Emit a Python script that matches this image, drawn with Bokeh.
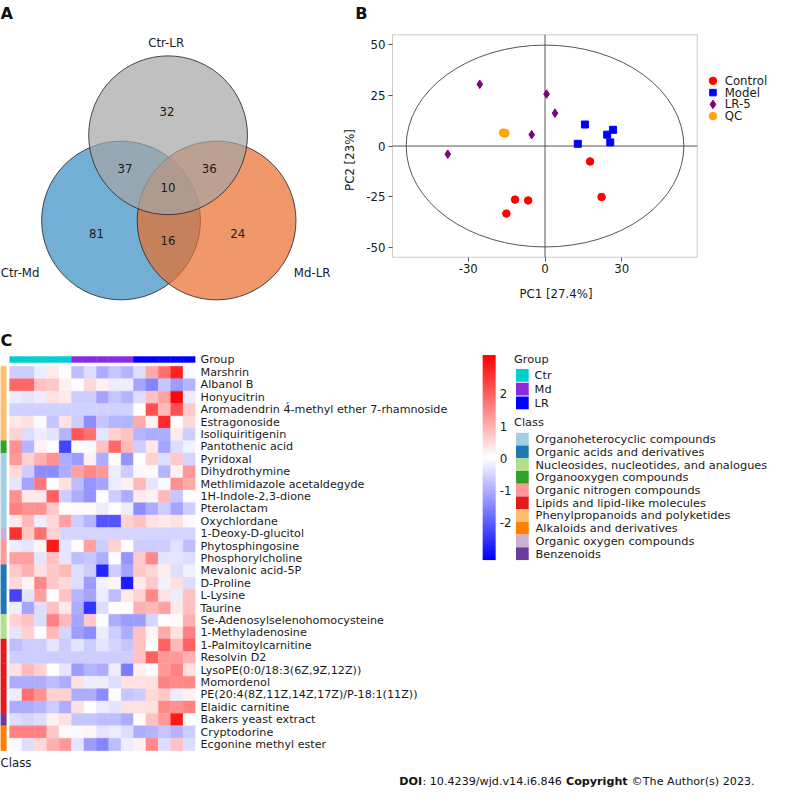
from bokeh.plotting import figure
from bokeh.models import (Range1d, ColumnDataSource, ColorBar,
                          LinearColorMapper, FixedTicker, LinearAxis, BoxAnnotation)
from bokeh.layouts import column, row
from bokeh.embed import file_html
from bokeh.resources import INLINE
from bokeh.core.properties import value
from bokeh.transform import transform

S = 0.98
FONT = "DejaVu Sans"
TXT = "#1a1a1a"

# ---------------- data ----------------
venn_set_names = ["Ctr-LR", "Ctr-Md", "Md-LR"]
venn_counts = [32, 37, 36, 10, 81, 16, 24]

pca_groups = ["Control", "Model", "LR-5", "QC"]
pca_control_x = [17.6, 22.1, -11.7, -6.6, -15.1]
pca_control_y = [-7.6, -25.1, -26.4, -26.8, -33.3]
pca_model_x = [15.6, 12.8, 24.3, 26.6, 25.5]
pca_model_y = [10.6, 1.1, 5.6, 8.0, 1.8]
pca_lr_x = [-25.5, 0.6, 3.9, -5.2, -38.0]
pca_lr_y = [30.4, 25.6, 16.2, 5.6, -4.0]
pca_qc_x = [-16.3, -15.6]
pca_qc_y = [6.5, 6.3]
pca_xticks = [-30, 0, 30]
pca_yticks = [-50, -25, 0, 25, 50]
pca_xlim = (-59.6, 59.5)
pca_ylim = (-54.8, 54.8)
pca_ellipse_w, pca_ellipse_h = 108.5, 99.5

heat_rows = ["Marshrin", "Albanol B", "Honyucitrin",
             "Aromadendrin 4\u0301-methyl ether 7-rhamnoside", "Estragonoside",
             "Isoliquiritigenin", "Pantothenic acid", "Pyridoxal", "Dihydrothymine",
             "Methlimidazole acetaldegyde", "1H-Indole-2,3-dione", "Pterolactam",
             "Oxychlordane", "1-Deoxy-D-glucitol", "Phytosphingosine",
             "Phosphorylcholine", "Mevalonic acid-5P", "D-Proline", "L-Lysine",
             "Taurine", "Se-Adenosylselenohomocysteine", "1-Methyladenosine",
             "1-Palmitoylcarnitine", "Resolvin D2", "LysoPE(0:0/18:3(6Z,9Z,12Z))",
             "Momordenol", "PE(20:4(8Z,11Z,14Z,17Z)/P-18:1(11Z))", "Elaidic carnitine",
             "Bakers yeast extract", "Cryptodorine", "Ecgonine methyl ester"]

heat_groups = ["Ctr", "Md", "LR"]
samples_per_group = 5

class_names = ["Organoheterocyclic compounds", "Organic acids and derivatives",
               "Nucleosides, nucleotides, and analogues", "Organooxygen compounds",
               "Organic nitrogen compounds", "Lipids and lipid-like molecules",
               "Phenylpropanoids and polyketides", "Alkaloids and derivatives",
               "Organic oxygen compounds", "Benzenoids"]
class_colors = ["#A6CEE3", "#1F78B4", "#B2DF8A", "#33A02C", "#FB9A99", "#E31A1C",
                "#FDBF6F", "#FF7F00", "#CAB2D6", "#6A3D9A"]
group_colors = ["#00CED1", "#8A2BE2", "#0000FF"]

row_class = [6, 6, 6, 6, 6, 6, 3, 0, 0, 0, 0, 0, 0, 8, 4, 4, 1, 1, 1, 1, 2, 2,
             5, 5, 5, 5, 5, 5, 9, 7, 7]

heat_ctr = [
    [-0.6, -0.6, -0.2, 0.3, 0.0],
    [1.9, 1.9, 0.8, 0.7, 0.2],
    [-0.2, -0.3, -0.2, 0.4, 0.3],
    [-0.55, -0.55, -0.55, -0.55, -0.55],
    [0.3, 0.4, -0.05, -0.7, 0.4],
    [0.6, -0.4, -0.2, -0.3, -0.9],
    [1.4, -0.9, 0.2, 0.05, -2.3],
    [1.3, 0.6, 1.0, 1.4, -1.0],
    [0.5, -0.6, -1.4, -1.4, -1.0],
    [-0.3, -1.1, 1.7, 0.0, 0.4],
    [1.4, 0.3, 0.3, 2.0, -0.6],
    [1.6, 1.4, 1.4, 0.7, 0.05],
    [0.3, 0.9, -0.2, 0.5, 1.2],
    [2.6, 0.7, 1.8, 0.6, -0.5],
    [-0.2, -0.3, 0.15, 2.9, -0.3],
    [1.2, 1.2, -0.3, 0.8, -0.3],
    [0.7, 1.0, 0.4, 0.7, 0.9],
    [0.5, 0.15, 1.5, 0.7, 0.5],
    [-2.3, -0.3, 1.2, 0.0, 0.8],
    [-0.2, -1.1, -0.4, 0.8, 0.3],
    [0.6, 0.8, -0.4, 1.6, 0.9],
    [-0.3, 0.6, 0.0, 0.9, -0.5],
    [-0.8, -0.6, -0.6, -0.3, -0.6],
    [-0.6, -0.6, -0.6, -0.6, -0.6],
    [0.4, 0.9, 0.6, 0.05, -0.3],
    [-1.0, -1.0, -1.0, -0.8, -1.0],
    [-0.2, 1.8, 1.4, 0.6, 0.6],
    [-1.0, -1.0, -0.9, -0.6, -1.0],
    [-0.4, -0.5, -0.4, 0.2, 0.4],
    [1.6, 1.6, 1.6, 0.7, 0.1],
    [-0.05, -0.4, 0.5, 1.0, 1.3],
]
heat_md = [
    [-0.8, -0.4, -1.0, -0.7, -0.9],
    [0.0, 0.5, 0.2, -0.2, -0.2],
    [-0.6, -0.6, -1.1, -0.7, -0.9],
    [-0.55, -0.55, -0.55, -0.55, -0.55],
    [-0.6, -1.4, -0.7, -0.9, -0.9],
    [2.1, 1.8, -0.3, 0.6, 0.8],
    [0.0, -0.05, 0.8, 1.9, 0.9],
    [-1.2, 0.2, -1.0, 0.0, -1.3],
    [1.2, 1.5, 1.3, -0.2, -0.6],
    [-0.8, -1.3, -1.1, -0.2, 0.2],
    [-1.0, -1.3, 0.0, -0.6, -1.0],
    [0.1, 0.1, -0.2, 0.0, -0.2],
    [-0.6, -0.9, -2.1, -2.1, 0.6],
    [-0.5, -0.5, -0.5, -0.5, -0.5],
    [0.05, 1.2, -0.6, 0.6, 0.0],
    [-0.8, -0.7, -1.0, 0.0, -1.3],
    [-0.4, -0.6, -2.7, -0.6, -1.1],
    [-0.4, -1.2, -0.15, 0.15, -2.8],
    [-0.9, -1.1, -0.2, -0.8, 0.3],
    [-1.0, -2.5, -0.4, 0.05, 0.05],
    [-1.1, 0.7, 0.0, -1.0, -1.2],
    [-1.2, -1.4, -0.2, -0.6, -1.0],
    [-0.3, -0.6, -0.3, -0.5, -0.7],
    [-0.6, -0.6, -0.6, -0.6, -0.6],
    [-1.2, -0.9, -1.0, -0.2, -1.6],
    [0.4, -0.2, -0.2, -0.4, 0.4],
    [-1.0, -1.0, -1.4, 0.0, -0.7],
    [0.4, 0.0, -0.2, -0.3, 0.4],
    [-0.7, -0.7, -0.8, -0.8, -1.0],
    [-0.05, 0.15, -0.3, -0.2, -0.4],
    [-0.3, -1.2, -1.5, -0.8, -0.2],
]
heat_lr = [
    [-0.4, 1.1, 1.8, 2.8, -0.05],
    [-1.1, -1.5, -0.7, -1.2, -0.9],
    [-0.4, 0.8, 1.2, 3.1, -0.2],
    [0.05, 2.2, 0.9, 2.2, 0.7],
    [1.1, 0.2, 2.7, 0.0, 0.5],
    [-0.9, -1.0, -1.0, 0.3, -0.6],
    [-0.6, 0.3, -1.1, -0.4, -0.15],
    [0.05, 0.6, -0.4, 0.7, -0.5],
    [-0.05, 0.1, -0.9, 0.2, 1.3],
    [0.9, -0.3, -0.05, 1.4, 1.1],
    [0.3, 0.2, 0.9, -0.7, 0.0],
    [-1.4, -1.0, -0.6, -1.1, -0.6],
    [0.8, 0.4, 0.3, 0.4, 0.1],
    [-0.5, -0.5, -0.5, -0.5, -0.5],
    [-0.6, -0.6, -0.6, -0.35, -0.8],
    [0.7, 1.5, -0.3, -0.3, -0.4],
    [0.7, 0.5, 0.25, -0.4, -0.15],
    [0.3, 0.7, -0.15, 0.4, -0.4],
    [0.6, 1.5, 0.4, -0.2, 0.8],
    [1.0, 0.9, 1.2, 0.3, 0.8],
    [-1.2, -0.5, 0.05, 0.1, 1.0],
    [0.8, 0.15, 1.1, 0.4, 1.6],
    [0.8, 0.05, 2.0, 0.9, 2.0],
    [0.8, 2.0, 1.3, 1.3, 1.0],
    [0.2, 0.05, 1.3, 1.6, 0.4],
    [0.4, 0.4, 1.6, 1.5, 1.5],
    [-0.6, 0.5, 0.7, -0.2, 0.2],
    [0.4, 0.4, 1.5, 1.4, 1.6],
    [0.05, 0.8, 1.3, 2.9, 0.05],
    [-1.0, -0.9, -0.7, -0.9, -0.6],
    [0.2, 1.5, -0.4, 0.8, -0.4],
]
colorbar_ticks = [-2, -1, 0, 1, 2]
scale_low, scale_high = -3.15, 3.2


def base_fig(w, h, xr, yr, **kw):
    f = figure(width=w, height=h, x_range=xr, y_range=yr, output_backend="svg",
               toolbar_location=None, **kw)
    f.background_fill_color = "white"
    f.border_fill_color = "white"
    f.min_border = 0
    f.min_border_left = 0
    f.min_border_right = 0
    f.min_border_top = 0
    f.min_border_bottom = 0
    return f


def hide_axes(f):
    f.axis.visible = False
    f.grid.visible = False
    f.outline_line_color = None


def fs(px):
    return "%.2fpx" % (px * S)


def ascii_labels(ticks):
    return {t: str(t) for t in ticks}


TOP_H = 319
BOT_H = 453
FOOT_H = 22
VENN_W = 338
PCA_W = 435
HM_W = 475
LEG_W = 298

# ---------------- Panel A: Venn ----------------
venn = base_fig(VENN_W, TOP_H, Range1d(0, VENN_W / S), Range1d(TOP_H / S, 0))
hide_axes(venn)
circ_x = [123, 220.5, 171]
circ_y = [224.5, 224.5, 137.5]
circ_fill = ["#388BC2", "#EA6C2A", "#A5A5A5"]
venn.circle(x=circ_x, y=circ_y, radius=81, fill_color=circ_fill, fill_alpha=0.7,
            line_color="#333333", line_width=0.9)
set_label_x = [169, 20, 318]
set_label_y = [43, 278, 278]
venn.text(x=set_label_x, y=set_label_y, text=venn_set_names,
          text_align="center", text_baseline="middle", text_font=value(FONT),
          text_font_size=fs(12), text_color=TXT)
cnt_x = [170, 127, 213, 171, 98, 171, 242]
cnt_y = [113, 171, 171, 191, 238, 245, 238]
venn.text(x=cnt_x, y=cnt_y, text=[str(v) for v in venn_counts], text_align="center",
          text_baseline="middle", text_font=value(FONT), text_font_size=fs(12),
          text_color=TXT)
venn.text(x=[0], y=[13], text=["A"], text_align="left", text_baseline="middle",
          text_font=value(FONT), text_font_style="bold", text_font_size=fs(16.5),
          text_color="#111111")

# ---------------- Panel B: PCA ----------------
p_x0 = VENN_W / S
p_x1 = p_x0 + PCA_W / S
BOX_L, BOX_R, BOX_T, BOX_B = 400, 711, 35, 262
kx = (pca_xlim[1] - pca_xlim[0]) / (BOX_R - BOX_L)
ky = (pca_ylim[1] - pca_ylim[0]) / (BOX_B - BOX_T)


def px_to_x(px):
    return pca_xlim[0] + (px - BOX_L) * kx


def px_to_y(py):
    return pca_ylim[1] - (py - BOX_T) * ky


xr = Range1d(px_to_x(p_x0), px_to_x(p_x1))
yr = Range1d(px_to_y(TOP_H / S), px_to_y(0))
pca = base_fig(PCA_W, TOP_H, xr, yr, x_axis_location=None, y_axis_location=None)
pca.grid.visible = False
pca.outline_line_color = None

xax = LinearAxis(fixed_location=pca_ylim[0], ticker=FixedTicker(ticks=pca_xticks),
                 axis_label="PC1 [27.4%]", major_label_overrides=ascii_labels(pca_xticks))
yax = LinearAxis(fixed_location=pca_xlim[0], ticker=FixedTicker(ticks=pca_yticks),
                 axis_label="PC2 [23%]", major_label_overrides=ascii_labels(pca_yticks))
for ax in (xax, yax):
    ax.axis_line_color = None
    ax.major_tick_line_color = "#555555"
    ax.major_tick_out = 4
    ax.major_tick_in = 0
    ax.minor_tick_line_color = None
    ax.major_label_text_font = FONT
    ax.major_label_text_font_size = fs(12)
    ax.major_label_text_color = TXT
    ax.axis_label_text_font = FONT
    ax.axis_label_text_font_size = fs(12)
    ax.axis_label_text_font_style = "normal"
    ax.axis_label_text_color = TXT
    ax.major_label_standoff = 3
xax.axis_label_standoff = 10
yax.axis_label_standoff = 6
pca.add_layout(xax, "below")
pca.add_layout(yax, "left")

pca.add_layout(BoxAnnotation(left=pca_xlim[0], right=pca_xlim[1], bottom=pca_ylim[0],
                             top=pca_ylim[1], fill_color=None, line_color="#555555",
                             line_width=1))
pca.segment(x0=[pca_xlim[0], 0], y0=[0, pca_ylim[0]], x1=[pca_xlim[1], 0],
            y1=[0, pca_ylim[1]], line_color="#555555", line_width=1)
pca.ellipse(x=[0], y=[0], width=[pca_ellipse_w], height=[pca_ellipse_h],
            fill_color=None, line_color="#555555", line_width=1)

markers = ["circle", "square", "diamond", "circle"]
mcolors = ["#FF0000", "#0000FF", "#800080", "#FFA500"]
msizes = [7.5, 7, 8.5, 8]
series = [(pca_control_x, pca_control_y), (pca_model_x, pca_model_y),
          (pca_lr_x, pca_lr_y), (pca_qc_x, pca_qc_y)]
for (sx, sy), mk, mc, ms in zip(series, markers, mcolors, msizes):
    pca.scatter(sx, sy, marker=mk, size=ms, fill_color=mc, line_color=mc)

# legend (drawn inside the plot canvas, right of the score box)
leg_y = [px_to_y(82 + 12 * i) for i in range(len(pca_groups))]
for i, (mk, mc) in enumerate(zip(markers, mcolors)):
    pca.scatter([px_to_x(727)], [leg_y[i]], marker=mk, size=[7.5, 6.5, 8.5, 7.5][i],
                fill_color=mc, line_color=mc)
pca.text(x=[px_to_x(739)] * len(pca_groups), y=leg_y, text=pca_groups,
         text_align="left", text_baseline="middle", text_font=value(FONT),
         text_font_size=fs(12), text_color=TXT)

pca.text(x=[px_to_x(362)], y=[px_to_y(13)], text=["B"], text_align="left",
         text_baseline="middle", text_font=value(FONT), text_font_style="bold",
         text_font_size=fs(16.5), text_color="#111111")

# ---------------- Panel C: heatmap ----------------
ROW0 = 373.3
ROWH = 12.65
COL0 = 9.3
COLW = 12.67
fig_top_ref = TOP_H / S
fig_bot_ref = fig_top_ref + BOT_H / S
hy0 = (fig_top_ref - ROW0) / ROWH
hy1 = (fig_bot_ref - ROW0) / ROWH
hx0 = -COL0 / COLW
hm = base_fig(HM_W, BOT_H, Range1d(hx0, 15), Range1d(hy1, hy0), x_axis_location=None,
              y_axis_location="right")
hm.min_border_right = 280
hm.grid.visible = False
hm.outline_line_color = None

palette = []
for i in range(128):
    t = i / 127
    palette.append("#%02x%02x%02x" % (int(round(255 * t)), int(round(255 * t)), 255))
for i in range(128):
    t = i / 127
    palette.append("#%02x%02x%02x" % (255, int(round(255 * (1 - t))), int(round(255 * (1 - t)))))
mapper = LinearColorMapper(palette=palette, low=scale_low, high=scale_high)

cx, cy, cv = [], [], []
for r_i in range(len(heat_rows)):
    vals = heat_ctr[r_i] + heat_md[r_i] + heat_lr[r_i]
    for c_i, v in enumerate(vals):
        cx.append(c_i + 0.5)
        cy.append(r_i + 0.5)
        cv.append(v)
hsrc = ColumnDataSource(dict(x=cx, y=cy, v=cv))
hm.rect(x="x", y="y", width=1, height=1, source=hsrc,
        fill_color=transform("v", mapper), line_color=transform("v", mapper),
        line_width=0.4)

# group bar
gx = [c + 0.5 for c in range(samples_per_group * len(heat_groups))]
gcol = [group_colors[c // samples_per_group] for c in range(len(gx))]
gbar_y = (366.3 - ROW0) / ROWH
gbar_h = 6 / ROWH
hm.rect(x=gx, y=[gbar_y] * len(gx), width=1, height=gbar_h, fill_color=gcol,
        line_color=gcol, line_width=0.4)

# class bar
cbar_w = 6 / COLW
cbar_x = hx0 + cbar_w / 2
crow_y = [r + 0.5 for r in range(len(heat_rows))]
crow_c = [class_colors[k] for k in row_class]
hm.rect(x=[cbar_x] * len(crow_y), y=crow_y, width=cbar_w, height=1, fill_color=crow_c,
        line_color=crow_c, line_width=0.4)

hax = hm.yaxis[0]
hax.ticker = FixedTicker(ticks=[gbar_y] + crow_y)
overrides = {gbar_y: "Group"}
for r_i, name in enumerate(heat_rows):
    overrides[r_i + 0.5] = name
hax.major_label_overrides = overrides
hax.axis_line_color = None
hax.major_tick_line_color = None
hax.minor_tick_line_color = None
hax.major_tick_out = 0
hax.major_tick_in = 0
hax.major_label_standoff = 5
hax.major_label_text_font = FONT
hax.major_label_text_font_size = fs(11.4)
hax.major_label_text_color = TXT

hm.text(x=[hx0], y=[(346.5 - ROW0) / ROWH], text=["C"], text_align="left",
        text_baseline="middle", text_font=value(FONT), text_font_style="bold",
        text_font_size=fs(16.5), text_color="#111111")
hm.text(x=[hx0], y=[(778 - ROW0) / ROWH], text=["Class"], text_align="left",
        text_baseline="middle", text_font=value(FONT), text_font_size=fs(12),
        text_color=TXT)

# ---------------- legends / colorbar ----------------
lx0 = HM_W / S
lf = base_fig(LEG_W, BOT_H, Range1d(lx0, lx0 + LEG_W / S), Range1d(fig_bot_ref, fig_top_ref))
hide_axes(lf)

cb = ColorBar(color_mapper=mapper, ticker=FixedTicker(ticks=colorbar_ticks),
              major_label_overrides=ascii_labels(colorbar_ticks),
              width=13, height=int(round(209 * S)),
              location=((492 - lx0) * S, (fig_bot_ref - 571) * S),
              padding=0, margin=0, major_tick_line_color=None, bar_line_color=None,
              major_label_text_font=FONT, major_label_text_font_size=fs(12),
              major_label_text_color=TXT, background_fill_color=None,
              border_line_color=None, label_standoff=4)
lf.add_layout(cb, "center")

BOXX = 532.5
LEGFS = fs(11.6)
lf.text(x=[524], y=[366], text=["Group"], text_align="left", text_baseline="middle",
        text_font=value(FONT), text_font_size=LEGFS, text_color=TXT)
g_y = [376 + 14 * i + 6.5 for i in range(len(heat_groups))]
lf.rect(x=[BOXX] * 3, y=g_y, width=13, height=13, fill_color=group_colors,
        line_color=None)
lf.text(x=[545] * 3, y=g_y, text=heat_groups, text_align="left", text_baseline="middle",
        text_font=value(FONT), text_font_size=LEGFS, text_color=TXT)

lf.text(x=[524], y=[430], text=["Class"], text_align="left", text_baseline="middle",
        text_font=value(FONT), text_font_size=LEGFS, text_color=TXT)
c_y = [441 + 13 * i + 6.5 for i in range(len(class_names))]
lf.rect(x=[BOXX] * len(c_y), y=c_y, width=13, height=13, fill_color=class_colors,
        line_color=None)
lf.text(x=[546] * len(c_y), y=c_y, text=class_names, text_align="left",
        text_baseline="middle", text_font=value(FONT), text_font_size=LEGFS,
        text_color=TXT)

# ---------------- footer ----------------
foot = base_fig(VENN_W + PCA_W, FOOT_H, Range1d(0, (VENN_W + PCA_W) / S),
                Range1d(fig_bot_ref + FOOT_H / S, fig_bot_ref))
hide_axes(foot)
foot_y = 797
FOOTFS = fs(11.4)
foot.text(x=[407, 577], y=[foot_y] * 2, text=["DOI", "Copyright"], text_align="left",
          text_baseline="middle", text_font=value(FONT), text_font_style="bold",
          text_font_size=FOOTFS, text_color="#111111")
foot.text(x=[430.5, 644], y=[foot_y] * 2,
          text=[": 10.4239/wjd.v14.i6.846", "\u00a9The Author(s) 2023."],
          text_align="left", text_baseline="middle", text_font=value(FONT),
          text_font_size=FOOTFS, text_color="#111111")

layout = column(row(venn, pca), row(hm, lf), foot)
open("out.html", "w").write(file_html(layout, INLINE))
